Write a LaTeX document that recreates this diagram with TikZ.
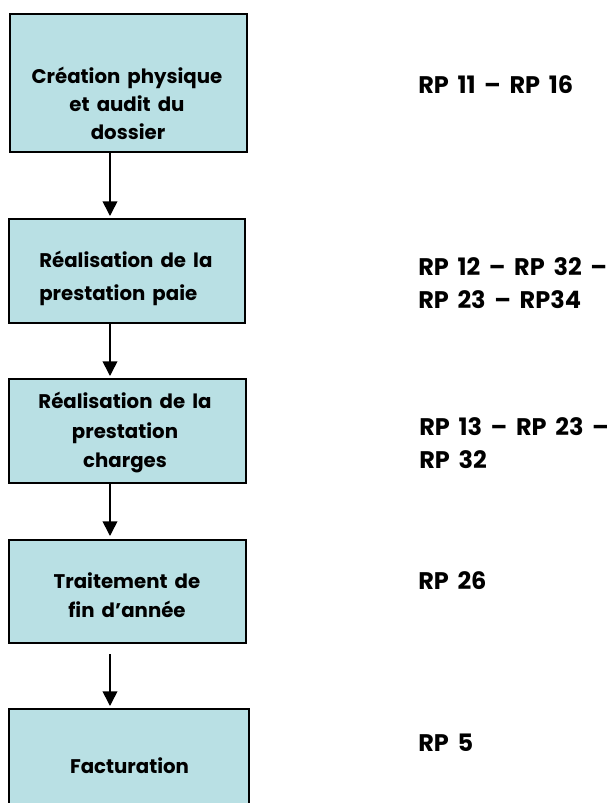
\documentclass[tikz,border=0pt]{standalone}
\usepackage{fontspec}
\setmainfont{Poppins}
\newfontfamily\stagefont{Poppins}[WordSpace=1.4]
\newfontfamily\reffont{Poppins}[WordSpace=1.7]
\usetikzlibrary{arrows.meta}
\definecolor{boxfill}{RGB}{185,224,228}
\def\px{0.75pt}
\begin{document}
\begin{tikzpicture}[x=0.75pt,y=-0.75pt,
  stage/.style={draw=black, fill=boxfill, line width=1.5pt, rectangle, inner sep=0pt},
  steptext/.style={font=\stagefont\bfseries\fontsize{14.8pt}{18pt}\selectfont, inner sep=0pt, anchor=base},
  steptextl/.style={steptext, anchor=base west},
  reftext/.style={font=\reffont\bfseries\fontsize{18pt}{22pt}\selectfont, inner sep=0pt, anchor=base west},
  conn/.style={draw=black, line width=1.2pt, -{Triangle[width=11pt,length=11pt]}}]
\useasboundingbox (0,0) rectangle (610,803);
\clip (0,0) rectangle (610,803);

% process stages
\node[stage, minimum width=237*\px, minimum height=138*\px] (b1) at (128.5,83) {};
\node[stage, minimum width=236*\px, minimum height=104*\px] (b2) at (127,271) {};
\node[stage, minimum width=237*\px, minimum height=104*\px] (b3) at (127.5,431) {};
\node[stage, minimum width=237*\px, minimum height=103*\px] (b4) at (127.5,591.5) {};
\node[stage, minimum width=240*\px, minimum height=106*\px] (b5) at (129,762) {};

% stage captions
\node[steptext] at (127,83) {Création physique};
\node[steptext] at (127,111) {et audit du};
\node[steptext] at (128,139) {dossier};
\node[steptextl] at (39,267) {Réalisation de la};
\node[steptextl] at (39,300) {prestation paie};
\node[steptext] at (125,408) {Réalisation de la};
\node[steptext] at (125,438) {prestation};
\node[steptext] at (125,467) {charges};
\node[steptext] at (127,588) {Traitement de};
\node[steptext] at (127,617) {fin d’année};
\node[steptext] at (129.5,773) {Facturation};

% references
\node[reftext] (r1) at (418,93) {RP 11 – RP 16};
\node[reftext] (r2a) at (418,275) {RP 12 – RP 32 –};
\node[reftext] (r2b) at (418,308) {RP 23 – RP34};
\node[reftext] (r3a) at (419,435) {RP 13 – RP 23 –};
\node[reftext] (r3b) at (419,468) {RP 32};
\node[reftext] (r4) at (418,589) {RP 26};
\node[reftext] (r5) at (418,751) {RP 5};

% flow
\draw[conn] ([xshift=-18.5*\px]b1.south) -- ([shift={(-17,-2)}]b2.north);
\draw[conn] ([xshift=-17*\px]b2.south) -- ([shift={(-17.5,-2)}]b3.north);
\draw[conn] ([xshift=-17.5*\px]b3.south) -- ([shift={(-17.5,-3)}]b4.north);
\draw[conn] ([shift={(-17.5,10)}]b4.south) -- ([shift={(-19,-2)}]b5.north);
\end{tikzpicture}
\end{document}
